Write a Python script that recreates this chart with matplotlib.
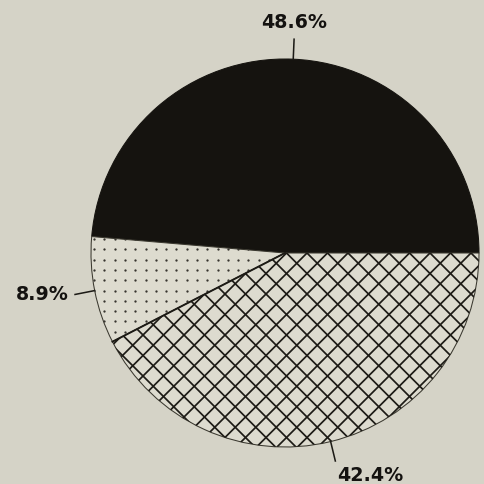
import numpy as np
import matplotlib
matplotlib.use("Agg")
import matplotlib.pyplot as plt
from matplotlib.collections import LineCollection

# shares of the three groups, in percent (counter-clockwise from 3 o'clock)
shares = [48.6, 8.9, 42.4]
labels = [f"{v:.1f}%" for v in shares]
fills = ["#15130f", "#dddbcf", "#dddbcf"]

W = H = 484
DPI = 124
BG = "#d5d3c7"
INK = "#1c1a15"

fig = plt.figure(figsize=(W / DPI, H / DPI), dpi=DPI, facecolor=BG)
ax = fig.add_axes([0, 0, 1, 1])
ax.set_facecolor(BG)

cx, cy, r = 285, H - 253, 194
wedges, _ = ax.pie(shares, startangle=0, counterclock=True, center=(cx, cy),
                   radius=r, colors=fills, normalize=True,
                   wedgeprops=dict(edgecolor="#3a382f", linewidth=0.6))
wedges[0].set_edgecolor(fills[0])

# dotted screen for the small wedge
dot_step = 10.3
gx, gy = np.meshgrid(np.arange(cx - r, cx + r, dot_step) + 3,
                     np.arange(cy - r, cy + r, dot_step) + 2)
dots = ax.scatter(gx.ravel(), gy.ravel(), s=1.8, c="#36342e", linewidths=0, zorder=3)
dots.set_clip_path(wedges[1])

# diagonal cross-hatch for the large lower wedge
hatch_step = 20.5
segs = []
for k in np.arange(-2 * r, 2 * r, hatch_step):
    segs.append([(cx + k - r, cy - r), (cx + k + r, cy + r)])
    segs.append([(cx + k - r, cy + r), (cx + k + r, cy - r)])
hatch = LineCollection(segs, colors=INK, linewidths=1.0, zorder=3)
ax.add_collection(hatch)
hatch.set_clip_path(wedges[2])

# the dividing line between the dotted and hatched wedges
a = np.deg2rad(wedges[1].theta2)
ax.plot([cx, cx + r * np.cos(a)], [cy, cy + r * np.sin(a)], color=INK, lw=1.1, zorder=4)

# leader lines and labels
# (label offset from the end of the leader, horizontal alignment)
placing = [((0, 17), "center"), ((-6, 0), "right"), ((2, -15), "left")]
for w, lab, (off, ha) in zip(wedges, labels, placing):
    mid = np.deg2rad((w.theta1 + w.theta2) / 2)
    x0, y0 = cx + r * np.cos(mid), cy + r * np.sin(mid)
    x1, y1 = cx + (r + 20) * np.cos(mid), cy + (r + 20) * np.sin(mid)
    ax.plot([x0, x1], [y0, y1], color=INK, lw=0.9)
    ax.text(x1 + off[0], y1 + off[1], lab, ha=ha, va="center",
            fontsize=11, fontweight="bold", color="#141210",
            family="DejaVu Sans")

ax.set_xlim(0, W)
ax.set_ylim(0, H)
ax.set_aspect("equal")
ax.axis("off")

fig.savefig("out.png", dpi=DPI, facecolor=BG)
